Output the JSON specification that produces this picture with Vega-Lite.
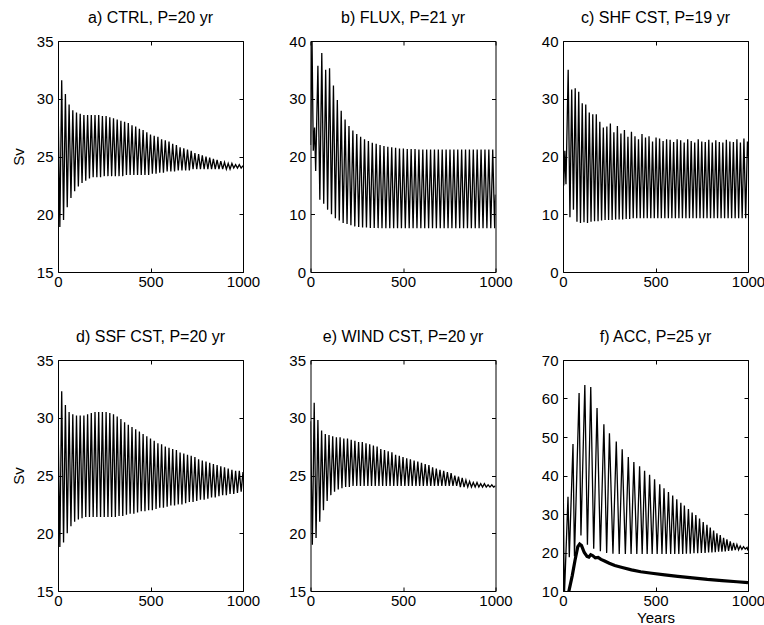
{
"$schema": "https://vega.github.io/schema/vega-lite/v6.json",
"datasets": {
"a": [{"t":0,"v":30.0},{"t":10,"v":18.9},{"t":20,"v":31.6},{"t":30,"v":19.5},{"t":40,"v":30.4},{"t":50,"v":20.6},{"t":60,"v":29.5},{"t":70,"v":21.4},{"t":80,"v":29.0},{"t":90,"v":22.0},{"t":100,"v":28.8},{"t":110,"v":22.4},{"t":120,"v":28.7},{"t":130,"v":22.7},{"t":140,"v":28.6},{"t":150,"v":22.9},{"t":160,"v":28.6},{"t":170,"v":23.1},{"t":180,"v":28.6},{"t":190,"v":23.2},{"t":200,"v":28.6},{"t":210,"v":23.2},{"t":220,"v":28.6},{"t":230,"v":23.2},{"t":240,"v":28.5},{"t":250,"v":23.3},{"t":260,"v":28.5},{"t":270,"v":23.3},{"t":280,"v":28.4},{"t":290,"v":23.3},{"t":300,"v":28.3},{"t":310,"v":23.3},{"t":320,"v":28.2},{"t":330,"v":23.3},{"t":340,"v":28.1},{"t":350,"v":23.3},{"t":360,"v":28.0},{"t":370,"v":23.4},{"t":380,"v":27.9},{"t":390,"v":23.4},{"t":400,"v":27.7},{"t":410,"v":23.4},{"t":420,"v":27.6},{"t":430,"v":23.4},{"t":440,"v":27.4},{"t":450,"v":23.4},{"t":460,"v":27.3},{"t":470,"v":23.4},{"t":480,"v":27.1},{"t":490,"v":23.4},{"t":500,"v":26.9},{"t":510,"v":23.5},{"t":520,"v":26.8},{"t":530,"v":23.5},{"t":540,"v":26.7},{"t":550,"v":23.6},{"t":560,"v":26.5},{"t":570,"v":23.6},{"t":580,"v":26.4},{"t":590,"v":23.7},{"t":600,"v":26.3},{"t":610,"v":23.7},{"t":620,"v":26.1},{"t":630,"v":23.7},{"t":640,"v":26.0},{"t":650,"v":23.8},{"t":660,"v":25.8},{"t":670,"v":23.8},{"t":680,"v":25.7},{"t":690,"v":23.8},{"t":700,"v":25.6},{"t":710,"v":23.8},{"t":720,"v":25.5},{"t":730,"v":23.9},{"t":740,"v":25.3},{"t":750,"v":23.9},{"t":760,"v":25.2},{"t":770,"v":23.9},{"t":780,"v":25.1},{"t":790,"v":23.9},{"t":800,"v":25.0},{"t":810,"v":23.9},{"t":820,"v":24.9},{"t":830,"v":23.9},{"t":840,"v":24.8},{"t":850,"v":23.9},{"t":860,"v":24.7},{"t":870,"v":23.9},{"t":880,"v":24.6},{"t":890,"v":23.9},{"t":900,"v":24.5},{"t":910,"v":23.9},{"t":920,"v":24.4},{"t":930,"v":23.9},{"t":940,"v":24.4},{"t":950,"v":24.0},{"t":960,"v":24.3},{"t":970,"v":24.0},{"t":980,"v":24.3},{"t":990,"v":24.0},{"t":1000,"v":24.2}],
"b": [{"t":0,"v":22},{"t":8,"v":41},{"t":15,"v":21},{"t":22,"v":25},{"t":28,"v":17.5},{"t":40,"v":35.7},{"t":50.5,"v":12.5},{"t":61,"v":37.9},{"t":71.5,"v":11.8},{"t":82,"v":35.0},{"t":92.5,"v":10.8},{"t":103,"v":35.3},{"t":113.5,"v":10.0},{"t":124,"v":32.3},{"t":134.5,"v":9.3},{"t":145,"v":29.8},{"t":155.5,"v":8.9},{"t":166,"v":27.9},{"t":176.5,"v":8.5},{"t":187,"v":26.4},{"t":197.5,"v":8.3},{"t":208,"v":25.3},{"t":218.5,"v":8.1},{"t":229,"v":24.5},{"t":239.5,"v":7.9},{"t":250,"v":23.9},{"t":260.5,"v":7.8},{"t":271,"v":23.4},{"t":281.5,"v":7.7},{"t":292,"v":23.0},{"t":302.5,"v":7.7},{"t":313,"v":22.7},{"t":323.5,"v":7.6},{"t":334,"v":22.4},{"t":344.5,"v":7.6},{"t":355,"v":22.2},{"t":365.5,"v":7.6},{"t":376,"v":22.0},{"t":386.5,"v":7.6},{"t":397,"v":21.8},{"t":407.5,"v":7.6},{"t":418,"v":21.7},{"t":428.5,"v":7.6},{"t":439,"v":21.6},{"t":449.5,"v":7.6},{"t":460,"v":21.5},{"t":470.5,"v":7.6},{"t":481,"v":21.4},{"t":491.5,"v":7.6},{"t":502,"v":21.4},{"t":512.5,"v":7.6},{"t":523,"v":21.3},{"t":533.5,"v":7.6},{"t":544,"v":21.3},{"t":554.5,"v":7.6},{"t":565,"v":21.3},{"t":575.5,"v":7.6},{"t":586,"v":21.2},{"t":596.5,"v":7.6},{"t":607,"v":21.2},{"t":617.5,"v":7.6},{"t":628,"v":21.2},{"t":638.5,"v":7.6},{"t":649,"v":21.2},{"t":659.5,"v":7.6},{"t":670,"v":21.2},{"t":680.5,"v":7.6},{"t":691,"v":21.2},{"t":701.5,"v":7.6},{"t":712,"v":21.2},{"t":722.5,"v":7.6},{"t":733,"v":21.2},{"t":743.5,"v":7.6},{"t":754,"v":21.2},{"t":764.5,"v":7.6},{"t":775,"v":21.2},{"t":785.5,"v":7.6},{"t":796,"v":21.2},{"t":806.5,"v":7.6},{"t":817,"v":21.2},{"t":827.5,"v":7.6},{"t":838,"v":21.2},{"t":848.5,"v":7.6},{"t":859,"v":21.2},{"t":869.5,"v":7.6},{"t":880,"v":21.2},{"t":890.5,"v":7.6},{"t":901,"v":21.2},{"t":911.5,"v":7.6},{"t":922,"v":21.2},{"t":932.5,"v":7.6},{"t":943,"v":21.2},{"t":953.5,"v":7.6},{"t":964,"v":21.2},{"t":974.5,"v":7.6},{"t":985,"v":21.2},{"t":995.5,"v":7.6},{"t":1000,"v":13.4}],
"c": [{"t":0,"v":21},{"t":4,"v":15},{"t":10,"v":21},{"t":16,"v":15.2},{"t":28,"v":35.0},{"t":37.5,"v":9.5},{"t":47,"v":31.6},{"t":56.5,"v":10.8},{"t":66,"v":31.8},{"t":75.5,"v":8.7},{"t":85,"v":31.2},{"t":94.5,"v":8.5},{"t":104,"v":29.2},{"t":113.5,"v":8.6},{"t":123,"v":29.0},{"t":132.5,"v":8.5},{"t":142,"v":27.6},{"t":151.5,"v":8.7},{"t":161,"v":27.3},{"t":170.5,"v":8.8},{"t":180,"v":27.3},{"t":189.5,"v":8.8},{"t":199,"v":26.0},{"t":208.5,"v":8.9},{"t":218,"v":25.0},{"t":227.5,"v":9.0},{"t":237,"v":25.2},{"t":246.5,"v":9.0},{"t":256,"v":25.7},{"t":265.5,"v":9.0},{"t":275,"v":24.2},{"t":284.5,"v":9.1},{"t":294,"v":25.3},{"t":303.5,"v":9.1},{"t":313,"v":24.0},{"t":322.5,"v":9.1},{"t":332,"v":24.6},{"t":341.5,"v":9.2},{"t":351,"v":23.4},{"t":360.5,"v":9.2},{"t":370,"v":24.3},{"t":379.5,"v":9.3},{"t":389,"v":23.5},{"t":398.5,"v":9.3},{"t":408,"v":23.0},{"t":417.5,"v":9.3},{"t":427,"v":23.9},{"t":436.5,"v":9.3},{"t":446,"v":23.3},{"t":455.5,"v":9.3},{"t":465,"v":23.5},{"t":474.5,"v":9.3},{"t":484,"v":22.6},{"t":493.5,"v":9.3},{"t":503,"v":23.3},{"t":512.5,"v":9.3},{"t":522,"v":23.1},{"t":531.5,"v":9.3},{"t":541,"v":22.7},{"t":550.5,"v":9.3},{"t":560,"v":23.0},{"t":569.5,"v":9.3},{"t":579,"v":22.9},{"t":588.5,"v":9.3},{"t":598,"v":22.5},{"t":607.5,"v":9.3},{"t":617,"v":23.0},{"t":626.5,"v":9.3},{"t":636,"v":22.8},{"t":645.5,"v":9.3},{"t":655,"v":22.4},{"t":664.5,"v":9.3},{"t":674,"v":23.0},{"t":683.5,"v":9.3},{"t":693,"v":22.7},{"t":702.5,"v":9.3},{"t":712,"v":22.4},{"t":721.5,"v":9.3},{"t":731,"v":23.0},{"t":740.5,"v":9.3},{"t":750,"v":22.6},{"t":759.5,"v":9.3},{"t":769,"v":22.5},{"t":778.5,"v":9.3},{"t":788,"v":22.9},{"t":797.5,"v":9.3},{"t":807,"v":22.4},{"t":816.5,"v":9.3},{"t":826,"v":22.8},{"t":835.5,"v":9.3},{"t":845,"v":22.5},{"t":854.5,"v":9.3},{"t":864,"v":22.4},{"t":873.5,"v":9.3},{"t":883,"v":22.9},{"t":892.5,"v":9.3},{"t":902,"v":22.6},{"t":911.5,"v":9.3},{"t":921,"v":22.5},{"t":930.5,"v":9.3},{"t":940,"v":23.0},{"t":949.5,"v":9.3},{"t":959,"v":22.4},{"t":968.5,"v":9.3},{"t":978,"v":23.1},{"t":987.5,"v":9.3},{"t":997,"v":22.6},{"t":1000,"v":20.0}],
"d": [{"t":0,"v":30.0},{"t":10,"v":18.8},{"t":20,"v":32.3},{"t":30,"v":19.2},{"t":40,"v":31.1},{"t":50,"v":20.0},{"t":60,"v":30.5},{"t":70,"v":20.6},{"t":80,"v":30.3},{"t":90,"v":21.0},{"t":100,"v":30.2},{"t":110,"v":21.2},{"t":120,"v":30.2},{"t":130,"v":21.3},{"t":140,"v":30.2},{"t":150,"v":21.4},{"t":160,"v":30.3},{"t":170,"v":21.4},{"t":180,"v":30.4},{"t":190,"v":21.4},{"t":200,"v":30.5},{"t":210,"v":21.4},{"t":220,"v":30.5},{"t":230,"v":21.4},{"t":240,"v":30.5},{"t":250,"v":21.4},{"t":260,"v":30.5},{"t":270,"v":21.4},{"t":280,"v":30.4},{"t":290,"v":21.4},{"t":300,"v":30.3},{"t":310,"v":21.4},{"t":320,"v":30.1},{"t":330,"v":21.5},{"t":340,"v":29.9},{"t":350,"v":21.5},{"t":360,"v":29.6},{"t":370,"v":21.6},{"t":380,"v":29.4},{"t":390,"v":21.7},{"t":400,"v":29.2},{"t":410,"v":21.7},{"t":420,"v":29.0},{"t":430,"v":21.8},{"t":440,"v":28.8},{"t":450,"v":21.9},{"t":460,"v":28.6},{"t":470,"v":21.9},{"t":480,"v":28.4},{"t":490,"v":22.0},{"t":500,"v":28.2},{"t":510,"v":22.0},{"t":520,"v":28.0},{"t":530,"v":22.1},{"t":540,"v":27.8},{"t":550,"v":22.2},{"t":560,"v":27.7},{"t":570,"v":22.2},{"t":580,"v":27.5},{"t":590,"v":22.3},{"t":600,"v":27.4},{"t":610,"v":22.4},{"t":620,"v":27.3},{"t":630,"v":22.4},{"t":640,"v":27.2},{"t":650,"v":22.5},{"t":660,"v":27.0},{"t":670,"v":22.5},{"t":680,"v":26.9},{"t":690,"v":22.6},{"t":700,"v":26.8},{"t":710,"v":22.7},{"t":720,"v":26.7},{"t":730,"v":22.7},{"t":740,"v":26.6},{"t":750,"v":22.8},{"t":760,"v":26.4},{"t":770,"v":22.9},{"t":780,"v":26.3},{"t":790,"v":22.9},{"t":800,"v":26.2},{"t":810,"v":23.0},{"t":820,"v":26.1},{"t":830,"v":23.1},{"t":840,"v":26.0},{"t":850,"v":23.1},{"t":860,"v":25.9},{"t":870,"v":23.2},{"t":880,"v":25.8},{"t":890,"v":23.3},{"t":900,"v":25.7},{"t":910,"v":23.3},{"t":920,"v":25.6},{"t":930,"v":23.4},{"t":940,"v":25.5},{"t":950,"v":23.4},{"t":960,"v":25.4},{"t":970,"v":23.5},{"t":980,"v":25.4},{"t":990,"v":23.6},{"t":1000,"v":25.3}],
"e": [{"t":0,"v":29.7},{"t":10,"v":19.0},{"t":20,"v":31.3},{"t":30,"v":19.6},{"t":40,"v":29.8},{"t":50,"v":21.0},{"t":60,"v":28.9},{"t":70,"v":22.0},{"t":80,"v":28.6},{"t":90,"v":22.8},{"t":100,"v":28.5},{"t":110,"v":23.3},{"t":120,"v":28.4},{"t":130,"v":23.6},{"t":140,"v":28.3},{"t":150,"v":23.8},{"t":160,"v":28.3},{"t":170,"v":23.9},{"t":180,"v":28.2},{"t":190,"v":24.0},{"t":200,"v":28.2},{"t":210,"v":24.0},{"t":220,"v":28.1},{"t":230,"v":24.1},{"t":240,"v":28.0},{"t":250,"v":24.1},{"t":260,"v":27.9},{"t":270,"v":24.1},{"t":280,"v":27.9},{"t":290,"v":24.1},{"t":300,"v":27.8},{"t":310,"v":24.1},{"t":320,"v":27.7},{"t":330,"v":24.1},{"t":340,"v":27.6},{"t":350,"v":24.1},{"t":360,"v":27.5},{"t":370,"v":24.1},{"t":380,"v":27.3},{"t":390,"v":24.1},{"t":400,"v":27.2},{"t":410,"v":24.1},{"t":420,"v":27.1},{"t":430,"v":24.1},{"t":440,"v":27.0},{"t":450,"v":24.1},{"t":460,"v":26.8},{"t":470,"v":24.1},{"t":480,"v":26.7},{"t":490,"v":24.1},{"t":500,"v":26.6},{"t":510,"v":24.1},{"t":520,"v":26.5},{"t":530,"v":24.1},{"t":540,"v":26.4},{"t":550,"v":24.1},{"t":560,"v":26.3},{"t":570,"v":24.1},{"t":580,"v":26.2},{"t":590,"v":24.1},{"t":600,"v":26.1},{"t":610,"v":24.1},{"t":620,"v":26.0},{"t":630,"v":24.1},{"t":640,"v":25.9},{"t":650,"v":24.1},{"t":660,"v":25.7},{"t":670,"v":24.1},{"t":680,"v":25.6},{"t":690,"v":24.1},{"t":700,"v":25.5},{"t":710,"v":24.1},{"t":720,"v":25.4},{"t":730,"v":24.1},{"t":740,"v":25.3},{"t":750,"v":24.1},{"t":760,"v":25.2},{"t":770,"v":24.1},{"t":780,"v":25.0},{"t":790,"v":24.1},{"t":800,"v":24.9},{"t":810,"v":24.0},{"t":820,"v":24.8},{"t":830,"v":24.0},{"t":840,"v":24.6},{"t":850,"v":24.0},{"t":860,"v":24.5},{"t":870,"v":24.0},{"t":880,"v":24.4},{"t":890,"v":24.0},{"t":900,"v":24.4},{"t":910,"v":24.0},{"t":920,"v":24.3},{"t":930,"v":24.0},{"t":940,"v":24.3},{"t":950,"v":24.0},{"t":960,"v":24.2},{"t":970,"v":24.0},{"t":980,"v":24.2},{"t":990,"v":24.0},{"t":1000,"v":24.1}],
"f": [{"t":0,"v":44},{"t":7,"v":8},{"t":27,"v":34.5},{"t":34,"v":18.8},{"t":54,"v":48.2},{"t":62,"v":19.0},{"t":87,"v":61.4},{"t":97,"v":24.4},{"t":118,"v":63.5},{"t":132,"v":22.0},{"t":150,"v":63.0},{"t":166,"v":21.0},{"t":184,"v":57.5},{"t":202,"v":20.3},{"t":221,"v":53.3},{"t":236,"v":19.9},{"t":251,"v":51.0},{"t":270,"v":19.7},{"t":288,"v":48.8},{"t":304,"v":19.6},{"t":320,"v":46.8},{"t":337,"v":19.6},{"t":353,"v":44.8},{"t":368,"v":19.6},{"t":383,"v":43.5},{"t":399,"v":19.6},{"t":414,"v":42.4},{"t":428,"v":19.6},{"t":441,"v":41.2},{"t":455,"v":19.6},{"t":468,"v":40.2},{"t":482,"v":19.6},{"t":495,"v":39.0},{"t":509,"v":19.6},{"t":523,"v":37.7},{"t":535,"v":19.6},{"t":546,"v":36.7},{"t":558,"v":19.6},{"t":570,"v":35.7},{"t":582,"v":19.6},{"t":593,"v":34.8},{"t":604,"v":19.6},{"t":615,"v":33.8},{"t":626,"v":19.6},{"t":637,"v":32.9},{"t":647,"v":19.6},{"t":656,"v":32.2},{"t":667,"v":19.7},{"t":678,"v":31.3},{"t":688,"v":19.7},{"t":698,"v":30.4},{"t":708,"v":19.8},{"t":718,"v":29.7},{"t":728,"v":19.8},{"t":738,"v":28.8},{"t":748,"v":19.9},{"t":758,"v":27.9},{"t":768,"v":19.9},{"t":778,"v":27.2},{"t":787,"v":20.0},{"t":796,"v":26.5},{"t":805,"v":20.0},{"t":814,"v":25.7},{"t":823,"v":20.1},{"t":832,"v":25.0},{"t":841,"v":20.2},{"t":850,"v":24.5},{"t":859,"v":20.2},{"t":868,"v":23.8},{"t":877,"v":20.3},{"t":886,"v":23.4},{"t":895,"v":20.4},{"t":904,"v":22.9},{"t":913,"v":20.5},{"t":922,"v":22.5},{"t":931,"v":20.6},{"t":940,"v":22.1},{"t":949,"v":20.7},{"t":958,"v":21.7},{"t":967,"v":20.8},{"t":976,"v":21.5},{"t":985,"v":20.9},{"t":995,"v":21.3},{"t":1000,"v":20.5}],
"g": [{"t":0,"v":2},{"t":20,"v":7},{"t":32,"v":10},{"t":50,"v":14},{"t":65,"v":18},{"t":80,"v":21.5},{"t":90,"v":22.2},{"t":100,"v":21.8},{"t":115,"v":20.0},{"t":130,"v":19.0},{"t":140,"v":18.8},{"t":150,"v":19.4},{"t":160,"v":19.2},{"t":175,"v":18.6},{"t":190,"v":18.7},{"t":205,"v":18.2},{"t":225,"v":17.8},{"t":250,"v":17.2},{"t":280,"v":16.6},{"t":320,"v":16.1},{"t":370,"v":15.5},{"t":420,"v":15.0},{"t":480,"v":14.6},{"t":550,"v":14.2},{"t":620,"v":13.8},{"t":700,"v":13.4},{"t":780,"v":13.0},{"t":860,"v":12.7},{"t":940,"v":12.4},{"t":1000,"v":12.2}]
},
"columns": 3,
"bounds": "flush",
"spacing": {"row": 88, "column": 67.5},
"padding": {"left": 10, "top": 9, "right": 5, "bottom": 3},
"concat": [
{"title": "a) CTRL, P=20 yr", "width": 185, "height": 231, "data": {"name": "a"},
 "layer": [
  {"mark": {"type": "line", "clip": true},
   "encoding": {"x": {"field": "t", "type": "quantitative", "scale": {"domain": [0, 1000], "nice": false, "zero": false}, "axis": {"title": null, "values": [0, 500, 1000], "format": "d"}},
    "y": {"field": "v", "type": "quantitative", "scale": {"domain": [15, 35], "nice": false, "zero": false}, "axis": {"title": "Sv", "values": [15, 20, 25, 30, 35]}}}},
  {"mark": {"type": "point", "opacity": 0},
   "encoding": {"x": {"field": "t", "type": "quantitative", "axis": {"orient": "top", "labels": false, "title": null, "values": [0, 500, 1000]}},
    "y": {"field": "v", "type": "quantitative", "axis": {"orient": "right", "labels": false, "title": null, "values": [15, 20, 25, 30, 35]}}}}
 ],
 "resolve": {"axis": {"x": "independent", "y": "independent"}}},
{"title": "b) FLUX, P=21 yr", "width": 185, "height": 231, "data": {"name": "b"},
 "layer": [
  {"mark": {"type": "line", "clip": true},
   "encoding": {"x": {"field": "t", "type": "quantitative", "scale": {"domain": [0, 1000], "nice": false, "zero": false}, "axis": {"title": null, "values": [0, 500, 1000], "format": "d"}},
    "y": {"field": "v", "type": "quantitative", "scale": {"domain": [0, 40], "nice": false, "zero": false}, "axis": {"title": null, "values": [0, 10, 20, 30, 40]}}}},
  {"mark": {"type": "point", "opacity": 0, "clip": true},
   "encoding": {"x": {"field": "t", "type": "quantitative", "axis": {"orient": "top", "labels": false, "title": null, "values": [0, 500, 1000]}},
    "y": {"field": "v", "type": "quantitative", "axis": {"orient": "right", "labels": false, "title": null, "values": [0, 10, 20, 30, 40]}}}}
 ],
 "resolve": {"axis": {"x": "independent", "y": "independent"}}},
{"title": "c) SHF CST, P=19 yr", "width": 185, "height": 231, "data": {"name": "c"},
 "layer": [
  {"mark": {"type": "line", "clip": true},
   "encoding": {"x": {"field": "t", "type": "quantitative", "scale": {"domain": [0, 1000], "nice": false, "zero": false}, "axis": {"title": null, "values": [0, 500, 1000], "format": "d"}},
    "y": {"field": "v", "type": "quantitative", "scale": {"domain": [0, 40], "nice": false, "zero": false}, "axis": {"title": null, "values": [0, 10, 20, 30, 40]}}}},
  {"mark": {"type": "point", "opacity": 0},
   "encoding": {"x": {"field": "t", "type": "quantitative", "axis": {"orient": "top", "labels": false, "title": null, "values": [0, 500, 1000]}},
    "y": {"field": "v", "type": "quantitative", "axis": {"orient": "right", "labels": false, "title": null, "values": [0, 10, 20, 30, 40]}}}}
 ],
 "resolve": {"axis": {"x": "independent", "y": "independent"}}},
{"title": "d) SSF CST, P=20 yr", "width": 185, "height": 231, "data": {"name": "d"},
 "layer": [
  {"mark": {"type": "line", "clip": true},
   "encoding": {"x": {"field": "t", "type": "quantitative", "scale": {"domain": [0, 1000], "nice": false, "zero": false}, "axis": {"title": null, "values": [0, 500, 1000], "format": "d"}},
    "y": {"field": "v", "type": "quantitative", "scale": {"domain": [15, 35], "nice": false, "zero": false}, "axis": {"title": "Sv", "values": [15, 20, 25, 30, 35]}}}},
  {"mark": {"type": "point", "opacity": 0},
   "encoding": {"x": {"field": "t", "type": "quantitative", "axis": {"orient": "top", "labels": false, "title": null, "values": [0, 500, 1000]}},
    "y": {"field": "v", "type": "quantitative", "axis": {"orient": "right", "labels": false, "title": null, "values": [15, 20, 25, 30, 35]}}}}
 ],
 "resolve": {"axis": {"x": "independent", "y": "independent"}}},
{"title": "e) WIND CST, P=20 yr", "width": 185, "height": 231, "data": {"name": "e"},
 "layer": [
  {"mark": {"type": "line", "clip": true},
   "encoding": {"x": {"field": "t", "type": "quantitative", "scale": {"domain": [0, 1000], "nice": false, "zero": false}, "axis": {"title": null, "values": [0, 500, 1000], "format": "d"}},
    "y": {"field": "v", "type": "quantitative", "scale": {"domain": [15, 35], "nice": false, "zero": false}, "axis": {"title": null, "values": [15, 20, 25, 30, 35]}}}},
  {"mark": {"type": "point", "opacity": 0},
   "encoding": {"x": {"field": "t", "type": "quantitative", "axis": {"orient": "top", "labels": false, "title": null, "values": [0, 500, 1000]}},
    "y": {"field": "v", "type": "quantitative", "axis": {"orient": "right", "labels": false, "title": null, "values": [15, 20, 25, 30, 35]}}}}
 ],
 "resolve": {"axis": {"x": "independent", "y": "independent"}}},
{"title": "f) ACC, P=25 yr", "width": 185, "height": 231,
 "layer": [
  {"data": {"name": "f"}, "mark": {"type": "line", "clip": true},
   "encoding": {"x": {"field": "t", "type": "quantitative", "scale": {"domain": [0, 1000], "nice": false, "zero": false}, "axis": {"title": "Years", "values": [0, 500, 1000], "format": "d"}},
    "y": {"field": "v", "type": "quantitative", "scale": {"domain": [10, 70], "nice": false, "zero": false}, "axis": {"title": null, "values": [10, 20, 30, 40, 50, 60, 70]}}}},
  {"data": {"name": "g"}, "mark": {"type": "line", "clip": true, "strokeWidth": 3.2},
   "encoding": {"x": {"field": "t", "type": "quantitative", "axis": null}, "y": {"field": "v", "type": "quantitative", "axis": null}}},
  {"data": {"name": "f"}, "mark": {"type": "point", "opacity": 0, "clip": true},
   "encoding": {"x": {"field": "t", "type": "quantitative", "axis": {"orient": "top", "labels": false, "title": null, "values": [0, 500, 1000]}},
    "y": {"field": "v", "type": "quantitative", "axis": {"orient": "right", "labels": false, "title": null, "values": [10, 20, 30, 40, 50, 60, 70]}}}}
 ],
 "resolve": {"axis": {"x": "independent", "y": "independent"}}}
],
"config": {
 "font": "Liberation Sans",
 "background": "white",
 "view": {"stroke": "black", "strokeWidth": 1},
 "line": {"color": "black", "strokeWidth": 1.3},
 "title": {"fontSize": 16, "fontWeight": "normal", "color": "black", "offset": 8, "font": "Liberation Sans"},
 "axis": {"grid": false, "domain": false, "ticks": true, "tickSize": -4, "tickColor": "black", "labelColor": "black", "labelFontSize": 15, "labelFont": "Liberation Sans", "titleFont": "Liberation Sans", "titleFontSize": 15, "titleFontWeight": "normal", "titleColor": "black", "labelFlush": false, "labelOverlap": false},
 "axisX": {"labelPadding": 6, "titlePadding": 2},
 "axisY": {"labelPadding": 9, "titlePadding": 10}
}
}
